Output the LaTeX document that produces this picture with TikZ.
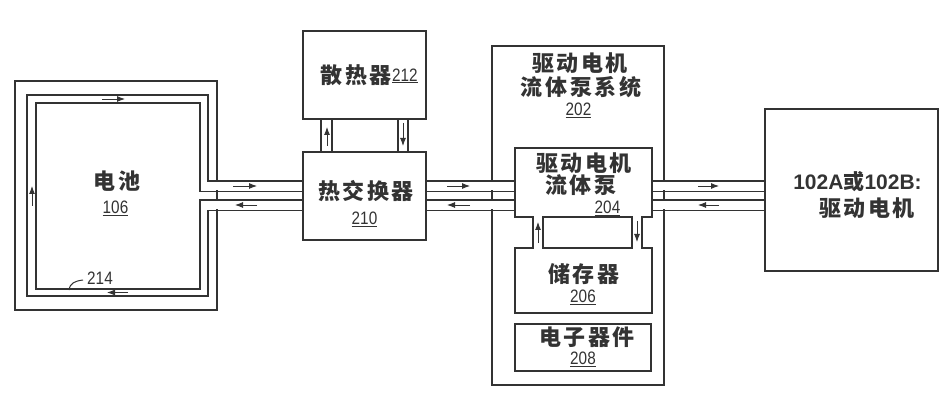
\documentclass[tikz,border=0pt]{standalone}
\usepackage{fontspec}
\setmainfont{Liberation Sans}
\newfontfamily\cjk{Noto Sans CJK SC}[LetterSpace=12]
\usetikzlibrary{arrows.meta,fit}
\definecolor{ink}{HTML}{333333}
\newcommand\numlab[1]{\scalebox{0.85}[1]{\underline{#1}}}
\begin{document}
\begin{tikzpicture}[x=1pt,y=-1pt,
  wall/.style={draw=ink,line width=1.7pt},
  box/.style={draw=ink,line width=1.7pt,inner sep=0pt},
  flow/.style={draw=ink,line width=0.9pt,-{Latex[length=8pt,width=6pt]}},
  cjklab/.style={text=ink,font=\cjk\bfseries\fontsize{22}{24}\selectfont,inner sep=0pt},
  numl/.style={text=ink,font=\fontsize{18}{20}\selectfont,inner sep=0pt},
  motorlab/.style={text=ink,font=\bfseries\fontsize{21}{23}\selectfont,inner sep=0pt},
]
\useasboundingbox[fill=white] (0,0) rectangle (946,401);

% boxes
\path (15,81) coordinate (bat-nw) (217,310) coordinate (bat-se);
\node[box,fit=(bat-nw)(bat-se)] (bat) {};
\path (303,31) coordinate (rad-nw) (426,119) coordinate (rad-se);
\node[box,fit=(rad-nw)(rad-se)] (rad) {};
\path (303,152) coordinate (hx-nw) (426,240) coordinate (hx-se);
\node[box,fit=(hx-nw)(hx-se)] (hx) {};
\path (492,46) coordinate (sys-nw) (664,385) coordinate (sys-se);
\node[box,fit=(sys-nw)(sys-se)] (sys) {};
\path (515,148) coordinate (pump-nw) (652,217) coordinate (pump-se);
\node[box,fit=(pump-nw)(pump-se)] (pump) {};
\path (515,248) coordinate (res-nw) (652,313) coordinate (res-se);
\node[box,fit=(res-nw)(res-se)] (res) {};
\path (515,324) coordinate (ele-nw) (651,371) coordinate (ele-se);
\node[box,fit=(ele-nw)(ele-se)] (ele) {};
\path (765,109) coordinate (mot-nw) (938,271) coordinate (mot-se);
\node[box,fit=(mot-nw)(mot-se)] (mot) {};

% openings where pipes pass through walls
\fill[white] (210,182.3) rectangle (225,190.2);
\fill[white] (210,201.3) rectangle (225,209.2);
\fill[white] (484,182.3) rectangle (500,190.2);
\fill[white] (484,201.3) rectangle (500,209.2);
\fill[white] (656,182.3) rectangle (672,190.2);
\fill[white] (656,201.3) rectangle (672,209.2);
\fill[white] (534.3,210) rectangle (541.7,255);
\fill[white] (633.3,210) rectangle (640.7,255);

% battery cooling loop
\draw[wall] (hx.west |- 0,181) -- (208,181) -- (208,95) -- (27,95) -- (27,296)
  -- (208,296) -- (208,210.5) -- (hx.west |- 0,210.5);
\draw[wall] (hx.west |- 0,191.5) -- (200,191.5) -- (200,103) -- (36,103) -- (36,289)
  -- (200,289) -- (200,200) -- (hx.west |- 0,200);

% heat exchanger <-> pump, pump <-> motor
\foreach \yy in {181,191.5,200,210.5}{
  \draw[wall] (hx.east |- 0,\yy) -- (pump.west |- 0,\yy);
  \draw[wall] (pump.east |- 0,\yy) -- (mot.west |- 0,\yy);
}
% radiator <-> heat exchanger
\foreach \xx in {321,332,398,408}{
  \draw[wall] (rad.south -| \xx,0) -- (hx.north -| \xx,0);
}
% pump <-> reservoir
\foreach \xx in {533,543,632,642}{
  \draw[wall] (pump.south -| \xx,0) -- (res.north -| \xx,0);
}

% flow arrows
\draw[flow] (102,99) -- (125,99);
\draw[flow] (32,206) -- (32,186);
\draw[flow] (128,292.5) -- (107,292.5);
\draw[flow] (233,186) -- (257,186);
\draw[flow] (257,205) -- (235,205);
\draw[flow] (447,186) -- (470,186);
\draw[flow] (470,205) -- (447,205);
\draw[flow] (698,186) -- (719,186);
\draw[flow] (719,205) -- (698,205);
\draw[flow] (327,146) -- (327,127);
\draw[flow] (403,123) -- (403,146);
\draw[flow] (538,243) -- (538,222);
\draw[flow] (637,221) -- (637,242);

% labels
\node[cjklab] (tbat) at (117,181) {电池};
\node[numl] (nbat) at (115.5,208) {\numlab{106}};
\node[numl] (n214) at (100,278) {\scalebox{0.85}[1]{214}};
\draw[ink,line width=1pt] (69,290) .. controls (70,283) and (75,281) .. (83,280);
\node[cjklab,anchor=east] (trad) at (392,75) {散热器};
\node[numl,anchor=west] (nrad) at (392,76) {\numlab{212}};
\node[cjklab] (thx) at (366,191) {热交换器};
\node[numl] (nhx) at (364.5,219) {\numlab{210}};
\node[cjklab] (tsys1) at (580,63) {驱动电机};
\node[cjklab] (tsys2) at (581,87) {流体泵系统};
\node[numl] (nsys) at (578.5,110) {\numlab{202}};
\node[cjklab] (tpump1) at (584,163) {驱动电机};
\node[cjklab] (tpump2) at (581,185) {流体泵};
\node[numl] (npump) at (607.5,208) {\numlab{204}};
\node[cjklab] (tres) at (584,274) {储存器};
\node[numl] (nres) at (583,297) {\numlab{206}};
\node[cjklab] (tele) at (587,337) {电子器件};
\node[numl] (nele) at (583,359) {\numlab{208}};
\node[motorlab] (tmot1) at (857.5,182) {102A{\cjk 或}102B:};
\node[cjklab] (tmot2) at (867,208) {驱动电机};
\end{tikzpicture}
\end{document}
